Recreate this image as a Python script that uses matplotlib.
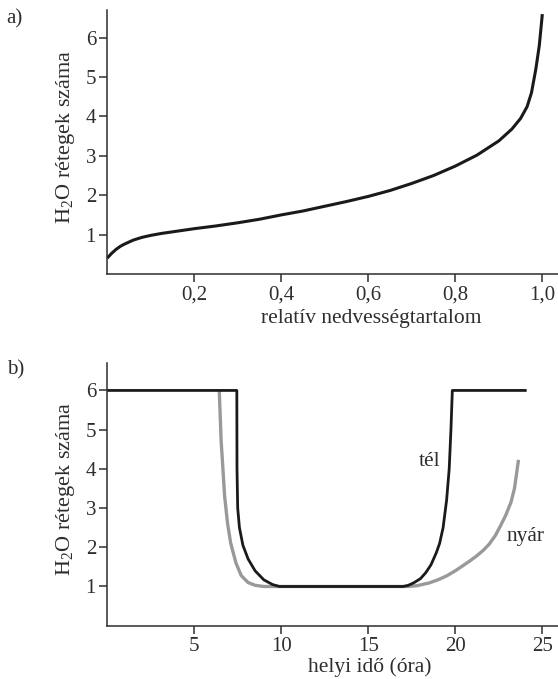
import matplotlib.pyplot as plt
import numpy as np

# a) adsorption isotherm
rh = [0.0, 0.01, 0.02, 0.03, 0.04, 0.06, 0.08, 0.1, 0.125, 0.15, 0.2, 0.25, 0.3, 0.35,
      0.4, 0.45, 0.5, 0.55, 0.6, 0.65, 0.7, 0.75, 0.8, 0.85, 0.9, 0.93, 0.95, 0.965,
      0.975, 0.985, 0.993, 1.0]
layers_a = [0.4, 0.52, 0.62, 0.7, 0.76, 0.86, 0.93, 0.98, 1.03, 1.07, 1.15, 1.22, 1.3, 1.39,
            1.5, 1.6, 1.72, 1.84, 1.97, 2.12, 2.3, 2.5, 2.74, 3.02, 3.38, 3.68, 3.95, 4.25,
            4.6, 5.2, 5.8, 6.6]

# b) daily cycle, winter (tél)
t_tel = [0.0, 7.45, 7.46, 7.5, 7.6, 7.8, 8.1, 8.5, 9.0, 9.5, 9.9, 17.0, 17.3, 17.6, 18.0,
         18.3, 18.6, 18.9, 19.1, 19.3, 19.5, 19.65, 19.75, 19.83, 24.1]
n_tel = [6.0, 6.0, 4.0, 3.0, 2.5, 2.05, 1.7, 1.4, 1.17, 1.05, 1.0, 1.0, 1.03, 1.09, 1.2,
         1.35, 1.55, 1.85, 2.1, 2.5, 3.2, 4.0, 5.0, 6.0, 6.0]

# b) daily cycle, summer (nyár)
t_nyar = [6.44, 6.5, 6.55, 6.63, 6.75, 6.92, 7.1, 7.4, 7.7, 8.1, 8.5, 9.0, 17.3, 17.8, 18.5,
          19.0, 19.5, 20.0, 20.4, 20.8, 21.2, 21.6, 21.95, 22.3, 22.6, 22.9, 23.2, 23.4, 23.63]
n_nyar = [6.0, 5.3, 4.7, 4.15, 3.3, 2.6, 2.1, 1.6, 1.28, 1.1, 1.03, 1.0, 1.0, 1.02, 1.09,
          1.17, 1.27, 1.4, 1.52, 1.64, 1.77, 1.92, 2.08, 2.3, 2.55, 2.82, 3.15, 3.5, 4.23]

plt.rcParams['font.family'] = ['Liberation Serif', 'DejaVu Serif']
plt.rcParams['mathtext.fontset'] = 'custom'
plt.rcParams['mathtext.rm'] = 'Liberation Serif'
plt.rcParams['mathtext.it'] = 'Liberation Serif'
txt = '#2e2e2e'
ylab = r'H$_\mathrm{2}$O rétegek száma'

fig = plt.figure(figsize=(5.58, 6.79), dpi=100)
ax1 = fig.add_axes([0.192, 0.5965, 0.808, 0.3885])
ax2 = fig.add_axes([0.192, 0.0785, 0.808, 0.3869])

for ax in (ax1, ax2):
    ax.spines['top'].set_visible(False)
    ax.spines['right'].set_visible(False)
    for s in ('left', 'bottom'):
        ax.spines[s].set_color(txt)
        ax.spines[s].set_linewidth(1.1)
    ax.tick_params(direction='out', length=6, width=1.1, color=txt, labelcolor=txt,
                   labelsize=15, pad=2)
    ax.set_ylim(0, 6.7)
    ax.set_yticks([1, 2, 3, 4, 5, 6])
    ax.set_ylabel(ylab, color=txt, fontsize=16)
    ax.yaxis.set_label_coords(-0.066, 0.52)

ax1.plot(rh, layers_a, color='#1a1a1a', lw=2.2, solid_capstyle='butt')
ax1.set_xlim(0, 1.036)
ax1.set_xticks([0.2, 0.4, 0.6, 0.8, 1.0])
ax1.set_xticklabels(['0,2', '0,4', '0,6', '0,8', '1,0'])
ax1.set_xlabel('relatív nedvességtartalom', color=txt, fontsize=15.5)
ax1.xaxis.set_label_coords(0.585, -0.133)

ax2.plot(t_nyar, n_nyar, color='#999999', lw=2.4, solid_capstyle='butt')
ax2.plot(t_tel, n_tel, color='#1a1a1a', lw=2.0, solid_capstyle='butt')
ax2.set_xlim(0, 25.9)
ax2.set_xticks([5, 10, 15, 20, 25])
ax2.set_xlabel('helyi idő (óra)', color=txt, fontsize=15.5)
ax2.xaxis.set_label_coords(0.582, -0.122)
ax2.text(18.5, 4.2, 'tél', color=txt, fontsize=15.5, ha='center', va='center')
ax2.text(24.05, 2.27, 'nyár', color=txt, fontsize=15.5, ha='center', va='center')

fig.text(0.012, 0.972, 'a)', color=txt, fontsize=15, va='center')
fig.text(0.012, 0.455, 'b)', color=txt, fontsize=15, va='center')

fig.savefig('out.png', dpi=100)
